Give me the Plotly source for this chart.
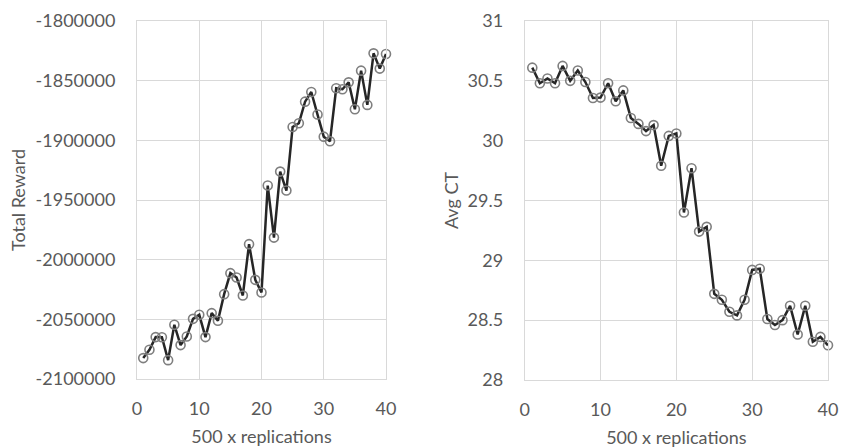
import plotly.graph_objects as go

replications = list(range(1, 41))

total_reward = [
    -2082500, -2075500, -2064900, -2065000, -2084200, -2054600, -2071600, -2064400,
    -2049600, -2046200, -2064900, -2044800, -2051250, -2028900, -2011300, -2015000,
    -2030000, -1987000, -2016900, -2027500, -1937900, -1981500, -1926200, -1942100,
    -1888800, -1885700, -1867600, -1859500, -1878400, -1896900, -1900800, -1856400,
    -1857200, -1851400, -1874000, -1841600, -1870300, -1827100, -1839900, -1827600,
]

avg_ct = [
    30.61, 30.48, 30.52, 30.48, 30.625, 30.50, 30.586, 30.49,
    30.356, 30.36, 30.48, 30.33, 30.42, 30.19, 30.14, 30.08,
    30.13, 29.79, 30.04, 30.06, 29.40, 29.77, 29.24, 29.28,
    28.72, 28.67, 28.57, 28.54, 28.67, 28.92, 28.93, 28.51,
    28.46, 28.50, 28.62, 28.38, 28.62, 28.32, 28.36, 28.29,
]

x_ticks = [0, 10, 20, 30, 40]
left_y_ticks = [-2100000, -2050000, -2000000, -1950000, -1900000, -1850000, -1800000]
right_y_ticks = [28, 28.5, 29, 29.5, 30, 30.5, 31]
right_y_labels = ["28", "28.5", "29", "29.5", "30", "30.5", "31"]

FONT = "Lato"
TXT = "#595959"
GRID = "#d9d9d9"

# The page body margin is removed in post_script, so the figure fills the
# 841x448 window; positions are given in page pixels and converted.
W, H = 841, 448


def dx(px):
    return px / W


def dy(py):
    return (H - py) / H


line_style = dict(color="#262626", width=2.5)
marker_style = dict(symbol="circle", size=9, color="rgba(255,255,255,0)",
                    line=dict(color="#7f7f7f", width=1.6))

fig = go.Figure()
fig.add_trace(go.Scatter(x=replications, y=total_reward, mode="lines+markers",
                         line=line_style, marker=marker_style, cliponaxis=False,
                         xaxis="x", yaxis="y", showlegend=False))
fig.add_trace(go.Scatter(x=replications, y=avg_ct, mode="lines+markers",
                         line=line_style, marker=marker_style, cliponaxis=False,
                         xaxis="x2", yaxis="y2", showlegend=False))

tf = dict(family=FONT, size=18, color=TXT)
axis_common = dict(showgrid=True, gridcolor=GRID, gridwidth=1, zeroline=False,
                   showline=True, mirror=True, linecolor=GRID, linewidth=1,
                   ticks="", tickfont=tf)

fig.update_layout(
    width=W, height=H,
    margin=dict(l=0, r=0, t=0, b=0, autoexpand=False),
    paper_bgcolor="white", plot_bgcolor="white",
    font=dict(family=FONT, color=TXT),
    xaxis=dict(domain=[dx(137), dx(386)], range=[0, 40], tickvals=x_ticks,
               anchor="y", ticklabelstandoff=13,
               title=dict(text="500 x replications", font=tf, standoff=12),
               **axis_common),
    yaxis=dict(domain=[dy(379), dy(21)], range=[-2100000, -1800000], tickvals=left_y_ticks,
               ticktext=[str(v) for v in left_y_ticks], anchor="x", ticklabelstandoff=17,
               title=dict(text="Total Reward", font=tf, standoff=5),
               **axis_common),
    xaxis2=dict(domain=[dx(524.7), dx(828)], range=[0, 40], tickvals=x_ticks,
                anchor="y2", ticklabelstandoff=13,
                title=dict(text="500 x replications", font=tf, standoff=12),
                **axis_common),
    yaxis2=dict(domain=[dy(380), dy(21)], range=[28, 31], tickvals=right_y_ticks,
                ticktext=right_y_labels, anchor="x2", ticklabelstandoff=17,
                title=dict(text="Avg CT", font=tf, standoff=4),
                **axis_common),
)

fig.write_html(
    "out.html",
    config={"displayModeBar": False},
    post_script="document.body.style.margin='0';"
                "document.body.style.padding='0';"
                "document.documentElement.style.overflow='hidden';"
                "document.body.style.overflow='hidden';",
)
